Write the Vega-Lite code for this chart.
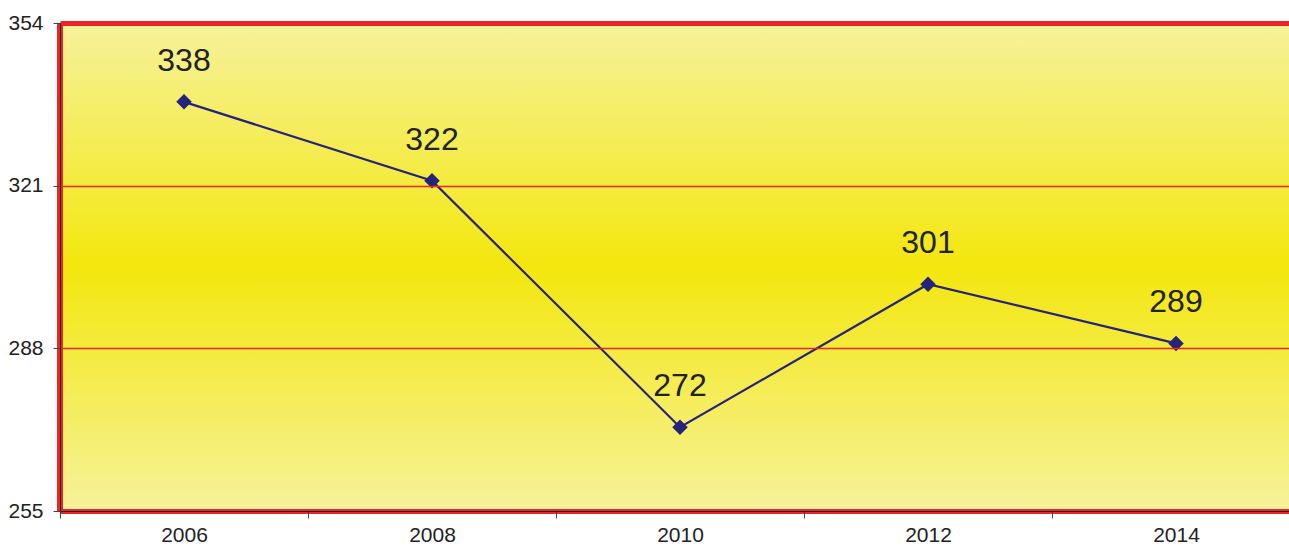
{
  "$schema": "https://vega.github.io/schema/vega-lite/v6.json",
  "width": 1229,
  "height": 488,
  "autosize": {"type": "none"},
  "padding": {"left": 60, "top": 23, "right": 0, "bottom": 35},
  "background": "white",
  "config": {"view": {"stroke": null}, "font": "Liberation Sans"},
  "data": {"values": [
    {"year": "2006", "value": 338},
    {"year": "2008", "value": 322},
    {"year": "2010", "value": 272},
    {"year": "2012", "value": 301},
    {"year": "2014", "value": 289}
  ]},
  "encoding": {
    "x": {
      "field": "year", "type": "ordinal",
      "scale": {"type": "band", "range": [0, 1240], "paddingInner": 0, "paddingOuter": 0},
      "axis": {
        "title": null, "labelAngle": 0, "labelFontSize": 21, "labelColor": "#222222",
        "labelPadding": 6, "tickBand": "extent", "tickSize": 7, "tickColor": "#444444",
        "domainColor": "#222222", "domainWidth": 1, "grid": false, "zindex": 2
      }
    },
    "y": {
      "field": "value", "type": "quantitative",
      "scale": {"domain": [255, 354], "nice": false, "zero": false},
      "axis": {
        "title": null, "values": [255, 288, 321, 354], "labelFontSize": 21,
        "labelColor": "#222222", "labelPadding": 10, "tickSize": 7, "tickColor": "#444444",
        "domainColor": "#222222", "domainWidth": 1,
        "grid": true, "gridColor": "#e8262a",
        "gridWidth": {"condition": {"test": "datum.value == 354 || datum.value == 255", "value": 5}, "value": 1.5},
        "zindex": 1
      }
    }
  },
  "layer": [
    {
      "data": {"values": [{}]},
      "mark": {
        "type": "rect",
        "fill": {
          "gradient": "linear", "x1": 0, "y1": 0, "x2": 0, "y2": 1,
          "stops": [
            {"offset": 0, "color": "#f6f29c"},
            {"offset": 0.5, "color": "#f3e70d"},
            {"offset": 1, "color": "#f6f29c"}
          ]
        }
      },
      "encoding": {"x": null, "y": null}
    },
    {
      "data": {"values": [{}]},
      "mark": {"type": "rule", "color": "#e8262a", "strokeWidth": 6},
      "encoding": {"x": {"datum": "2006", "type": "ordinal", "bandPosition": 0}, "y": null}
    },
    {
      "mark": {"type": "line", "color": "#25237a", "strokeWidth": 2.2}
    },
    {
      "mark": {"type": "point", "shape": "diamond", "filled": true, "size": 240, "color": "#25237a", "opacity": 1}
    },
    {
      "mark": {"type": "text", "fontSize": 32, "dy": -41, "color": "#222222", "font": "Liberation Sans"},
      "encoding": {"text": {"field": "value", "type": "quantitative"}}
    }
  ]
}
